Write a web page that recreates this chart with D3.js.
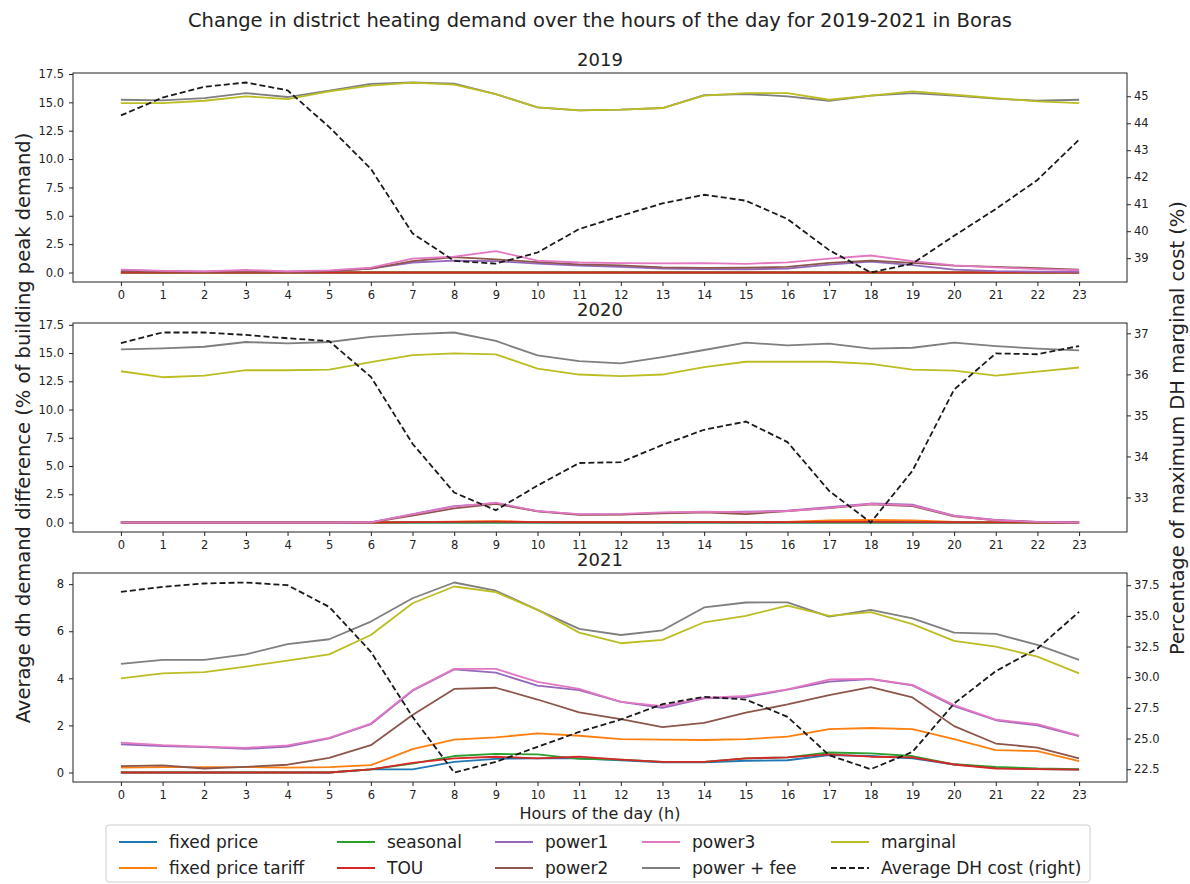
<!DOCTYPE html>
<html>
<head>
<meta charset="utf-8">
<script src="https://cdn.jsdelivr.net/npm/d3@7"></script>
<style>
  html, body { margin: 0; padding: 0; background: #fff; }
  svg { display: block; font-family: "DejaVu Sans", sans-serif; }
</style>
</head>
<body>
<svg id="chart" width="1190" height="884"></svg>
<script>
// ---- data: hourly demand difference (% of building peak demand) and DH cost (% of max) ----
const hours = d3.range(24);
const years = ["2019", "2020", "2021"];

// 2019
const fixedPrice2019 = [0,0,0,0,0,0,0,0,0,0,0,0,0,0,0,0,0,0,0,0,0,0,0,0];
const tariff2019     = [0,0,0,0,0,0,0,0,0,0,0,0,0,0,0,0,0,0,0,0,0,0,0,0];
const seasonal2019   = [0,0,0,0,0,0,0,0,0,0,0,0,0,0,0,0,0,0,0,0,0,0,0,0];
const tou2019        = [0,0,0,0,0,0,0,0,0,0,0,0,0,0,0,0,0,0,0,0,0,0,0,0];
const power1_2019    = [0.22,0.12,0.08,0.15,0.08,0.12,0.35,0.88,1.05,1.0,0.78,0.6,0.5,0.35,0.3,0.28,0.35,0.7,0.95,0.65,0.25,0.12,0.08,0.05];
const power2_2019    = [0.1,0.08,0.05,0.1,0.05,0.12,0.35,1.0,1.35,1.15,0.92,0.72,0.62,0.45,0.4,0.42,0.5,0.85,1.05,0.85,0.6,0.5,0.38,0.25];
const power3_2019    = [0.25,0.15,0.1,0.22,0.1,0.18,0.42,1.22,1.4,1.88,1.05,0.88,0.82,0.8,0.83,0.76,0.9,1.22,1.5,1.0,0.62,0.45,0.3,0.2];
const powerFee2019   = [15.23,15.17,15.38,15.82,15.47,16.03,16.62,16.75,16.65,15.73,14.55,14.29,14.35,14.5,15.64,15.73,15.53,15.14,15.59,15.82,15.59,15.32,15.14,15.23];
const marginal2019   = [14.94,14.94,15.14,15.53,15.29,15.97,16.47,16.74,16.56,15.73,14.55,14.29,14.35,14.5,15.59,15.82,15.82,15.23,15.59,15.97,15.67,15.38,15.08,14.94];
const dhCost2019     = [44.29,44.95,45.35,45.51,45.22,43.86,42.31,39.92,38.9,38.8,39.21,40.08,40.57,41.03,41.35,41.13,40.45,39.3,38.47,38.8,39.83,40.82,41.9,43.39];

// 2020
const fixedPrice2020 = [0,0,0,0,0,0,0,0,0,0,0,0,0,0,0,0,0,0,0,0,0,0,0,0];
const tariff2020     = [0,0,0,0,0,0,0,0.04,0.08,0.12,0.04,0.02,0.02,0.03,0.04,0.04,0.05,0.18,0.22,0.18,0.05,0.02,0,0];
const seasonal2020   = [0,0,0,0,0,0,0,0,0,0,0,0,0,0,0,0,0,0,0,0,0,0,0,0];
const tou2020        = [0,0,0,0,0,0,0,0.03,0.06,0.08,0.03,0.02,0.02,0.02,0.03,0.02,0.03,0.05,0.05,0.04,0.02,0.01,0,0];
const power1_2020    = [0,0,0,0,0,0,0.02,0.75,1.45,1.7,1.0,0.72,0.72,0.85,0.92,0.95,1.05,1.35,1.68,1.58,0.6,0.22,0.06,0];
const power2_2020    = [0,0,0,0,0,0,0.02,0.62,1.25,1.65,0.98,0.68,0.7,0.82,0.9,0.75,1.0,1.28,1.6,1.45,0.55,0.18,0.04,0];
const power3_2020    = [0,0,0,0,0,0,0.02,0.72,1.4,1.75,1.0,0.75,0.76,0.9,0.95,0.92,1.02,1.3,1.65,1.52,0.58,0.2,0.05,0];
const powerFee2020   = [15.33,15.42,15.56,15.98,15.86,15.98,16.43,16.67,16.82,16.07,14.79,14.28,14.08,14.64,15.27,15.92,15.68,15.83,15.39,15.47,15.92,15.62,15.39,15.24];
const marginal2020   = [13.39,12.86,13.0,13.48,13.48,13.54,14.2,14.82,14.97,14.88,13.63,13.1,12.95,13.1,13.75,14.23,14.23,14.23,14.05,13.54,13.45,13.0,13.36,13.72];
const dhCost2020     = [36.76,37.02,37.02,36.96,36.88,36.81,35.94,34.31,33.12,32.69,33.29,33.84,33.86,34.28,34.65,34.85,34.35,33.16,32.39,33.65,35.63,36.51,36.49,36.69];

// 2021
const fixedPrice2021 = [0,0,0,0,0,0,0.13,0.13,0.45,0.58,0.6,0.6,0.52,0.43,0.43,0.5,0.52,0.74,0.7,0.6,0.34,0.2,0.14,0.12];
const tariff2021     = [0.21,0.23,0.23,0.23,0.21,0.23,0.31,0.99,1.4,1.49,1.66,1.56,1.42,1.4,1.38,1.42,1.52,1.84,1.89,1.84,1.42,0.95,0.91,0.48];
const seasonal2021   = [0,0,0,0,0,0,0.13,0.38,0.7,0.79,0.77,0.58,0.55,0.45,0.45,0.6,0.64,0.85,0.81,0.7,0.35,0.24,0.17,0.14];
const tou2021        = [0,0,0,0,0,0,0.13,0.41,0.6,0.67,0.6,0.67,0.55,0.45,0.45,0.6,0.64,0.77,0.67,0.64,0.34,0.17,0.14,0.12];
const power1_2021    = [1.2,1.12,1.08,1.0,1.1,1.45,2.05,3.47,4.38,4.24,3.69,3.5,3.0,2.75,3.15,3.2,3.52,3.86,3.97,3.7,2.82,2.22,2.0,1.55];
const power2_2021    = [0.27,0.3,0.17,0.24,0.33,0.62,1.16,2.44,3.55,3.6,3.1,2.55,2.27,1.93,2.11,2.54,2.89,3.29,3.63,3.19,1.97,1.23,1.06,0.6];
const power3_2021    = [1.27,1.16,1.1,1.05,1.15,1.47,2.08,3.5,4.4,4.4,3.85,3.55,3.0,2.82,3.17,3.25,3.53,3.95,3.98,3.72,2.86,2.25,2.05,1.57];
const powerFee2021   = [4.61,4.78,4.78,5.02,5.45,5.66,6.41,7.4,8.07,7.72,6.91,6.1,5.84,6.04,7.01,7.22,7.23,6.62,6.91,6.55,5.94,5.89,5.42,4.78];
const marginal2021   = [4.0,4.21,4.26,4.5,4.75,5.02,5.84,7.19,7.9,7.66,6.91,5.94,5.49,5.63,6.38,6.65,7.09,6.65,6.81,6.3,5.59,5.35,4.92,4.21];
const dhCost2021     = [36.96,37.36,37.64,37.72,37.5,35.73,32.07,26.77,22.23,23.1,24.32,25.54,26.55,27.8,28.4,28.18,26.77,23.64,22.5,23.91,27.85,30.49,32.34,35.33];

// series names, in plotting order, and tick labels
const seriesNames = ["fixed price", "fixed price tariff", "seasonal", "TOU", "power1", "power2", "power3", "power + fee", "marginal"];
const costName = "Average DH cost (right)";
const leftTicks  = [[0, 2.5, 5, 7.5, 10, 12.5, 15, 17.5], [0, 2.5, 5, 7.5, 10, 12.5, 15, 17.5], [0, 2, 4, 6, 8]];
const rightTicks = [[39, 40, 41, 42, 43, 44, 45], [33, 34, 35, 36, 37], [22.5, 25, 27.5, 30, 32.5, 35, 37.5]];

// table built from the arrays above
const demandByYear = [
  [fixedPrice2019, tariff2019, seasonal2019, tou2019, power1_2019, power2_2019, power3_2019, powerFee2019, marginal2019],
  [fixedPrice2020, tariff2020, seasonal2020, tou2020, power1_2020, power2_2020, power3_2020, powerFee2020, marginal2020],
  [fixedPrice2021, tariff2021, seasonal2021, tou2021, power1_2021, power2_2021, power3_2021, powerFee2021, marginal2021]
];
const costByYear = [dhCost2019, dhCost2020, dhCost2021];

// ---- styling & layout ----
const colors = d3.scaleOrdinal(seriesNames, d3.schemeCategory10);
const svg = d3.select("#chart");
const axL = 73, axR = 1127, panelH = 209;
const panelTops = [73, 323, 573];
const ink = "#222";

// matplotlib-style 5% padded extent
function padded(values) {
  const [lo, hi] = d3.extent(values);
  const m = (hi - lo) * 0.05;
  return [lo - m, hi + m];
}

const x = d3.scaleLinear().domain(padded(hours)).range([axL, axR]);

years.forEach((yr, i) => {
  const top = panelTops[i], bottom = top + panelH;
  const series = demandByYear[i];
  const cost = costByYear[i];

  const yL = d3.scaleLinear().domain(padded(series.flat())).range([bottom, top]);
  const yR = d3.scaleLinear().domain(padded(cost)).range([bottom, top]);

  const g = svg.append("g");

  // demand lines
  const line = d3.line().x((d, h) => x(h)).y(d => yL(d));
  series.forEach((vals, s) => {
    g.append("path")
      .datum(vals)
      .attr("d", line)
      .attr("fill", "none")
      .attr("stroke", colors(seriesNames[s]))
      .attr("stroke-width", 1.8)
      .attr("stroke-linejoin", "round");
  });

  // twin-axis cost line
  const costLine = d3.line().x((d, h) => x(h)).y(d => yR(d));
  g.append("path")
    .datum(cost)
    .attr("d", costLine)
    .attr("fill", "none")
    .attr("stroke", "#1a1a1a")
    .attr("stroke-width", 1.8)
    .attr("stroke-dasharray", "6,3");

  // frame
  g.append("rect")
    .attr("x", axL).attr("y", top)
    .attr("width", axR - axL).attr("height", panelH)
    .attr("fill", "none").attr("stroke", ink).attr("stroke-width", 1);

  // axes
  const fmt = i < 2 ? d3.format(".1f") : d3.format("d");
  const leftAxis = d3.axisLeft(yL).tickValues(leftTicks[i]).tickFormat(fmt).tickSize(4).tickPadding(5);
  const rightFmt = i === 2 ? d3.format(".1f") : d3.format("d");
  const rightAxis = d3.axisRight(yR).tickValues(rightTicks[i]).tickFormat(rightFmt).tickSize(4).tickPadding(3);
  const bottomAxis = d3.axisBottom(x).tickValues(hours).tickFormat(d3.format("d")).tickSize(4).tickPadding(5);

  [
    [leftAxis, `translate(${axL},0)`],
    [rightAxis, `translate(${axR},0)`],
    [bottomAxis, `translate(0,${bottom})`]
  ].forEach(([ax, tr]) => {
    const a = svg.append("g").attr("transform", tr).call(ax);
    a.select(".domain").remove();
    a.selectAll("line").attr("stroke", ink);
    a.selectAll("text").attr("fill", ink).style("font-size", "11.5px").style("font-family", "DejaVu Sans");
  });

  // panel title
  svg.append("text")
    .attr("x", (axL + axR) / 2).attr("y", top - 7)
    .attr("text-anchor", "middle")
    .style("font-size", "18px").attr("fill", ink)
    .text(yr);
});

// figure title
svg.append("text")
  .attr("x", 600).attr("y", 27)
  .attr("text-anchor", "middle")
  .style("font-size", "19.5px").attr("fill", ink)
  .text("Change in district heating demand over the hours of the day for 2019-2021 in Boras");

// axis labels
svg.append("text")
  .attr("transform", "translate(23,428) rotate(-90)")
  .attr("text-anchor", "middle").attr("dominant-baseline", "central")
  .style("font-size", "19.5px").attr("fill", ink)
  .text("Average dh demand difference (% of building peak demand)");

svg.append("text")
  .attr("transform", "translate(1177,428) rotate(-90)")
  .attr("text-anchor", "middle").attr("dominant-baseline", "central")
  .style("font-size", "19.5px").attr("fill", ink)
  .text("Percentage of maximum DH marginal cost (%)");

svg.append("text")
  .attr("x", 600).attr("y", 819)
  .attr("text-anchor", "middle")
  .style("font-size", "16px").attr("fill", ink)
  .text("Hours of the day (h)");

// legend (5 columns x 2 rows, filled column by column)
const legendItems = seriesNames.map(n => ({ name: n, color: colors(n), dashed: false }))
  .concat([{ name: costName, color: "#1a1a1a", dashed: true }]);
const colX = [119, 337, 495, 642, 831];
const rowY = [842, 868];
const legend = svg.append("g");
legend.append("rect")
  .attr("x", 106).attr("y", 825).attr("width", 984).attr("height", 57)
  .attr("rx", 3)
  .attr("fill", "#fff").attr("fill-opacity", 0.8)
  .attr("stroke", "#cccccc").attr("stroke-width", 1);
legendItems.forEach((it, k) => {
  const cx = colX[Math.floor(k / 2)], cy = rowY[k % 2];
  legend.append("line")
    .attr("x1", cx).attr("x2", cx + 38).attr("y1", cy).attr("y2", cy)
    .attr("stroke", it.color).attr("stroke-width", 1.8)
    .attr("stroke-dasharray", it.dashed ? "6,3" : null);
  legend.append("text")
    .attr("x", cx + 50).attr("y", cy).attr("dy", "0.35em")
    .style("font-size", "17px").attr("fill", ink)
    .text(it.name);
});
</script>
</body>
</html>
